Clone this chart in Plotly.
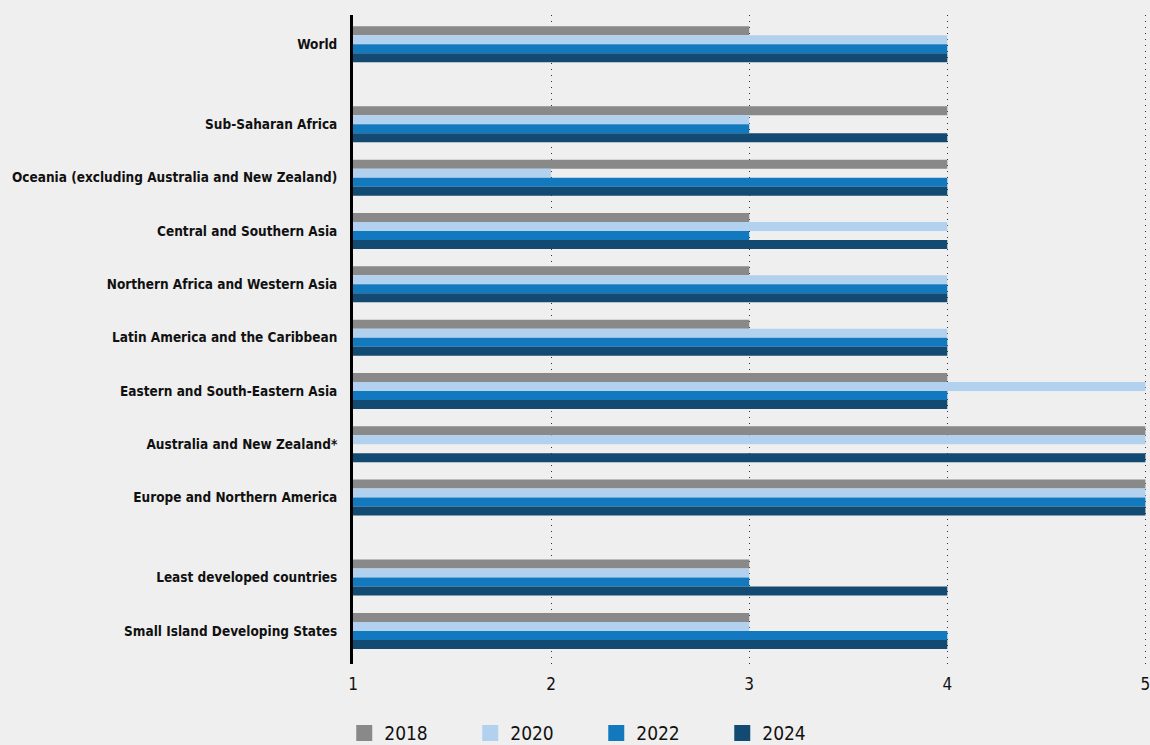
import plotly.graph_objects as go

categories = [
    "World",
    "Sub-Saharan Africa",
    "Oceania (excluding Australia and New Zealand)",
    "Central and Southern Asia",
    "Northern Africa and Western Asia",
    "Latin America and the Caribbean",
    "Eastern and South-Eastern Asia",
    "Australia and New Zealand*",
    "Europe and Northern America",
    "Least developed countries",
    "Small Island Developing States",
]
positions = [0, 1.5, 2.5, 3.5, 4.5, 5.5, 6.5, 7.5, 8.5, 10, 11]

years = ["2018", "2020", "2022", "2024"]
v2018 = [3, 4, 4, 3, 3, 3, 4, 5, 5, 3, 3]
v2020 = [4, 3, 2, 4, 4, 4, 5, 5, 5, 3, 3]
v2022 = [4, 3, 4, 3, 4, 4, 4, None, 5, 3, 4]
v2024 = [4, 4, 4, 4, 4, 4, 4, 5, 5, 4, 4]
series = [v2018, v2020, v2022, v2024]
colors = ["#898989", "#b1d1ee", "#1279be", "#124a72"]

FONT = "DejaVu Sans Condensed, sans-serif"

fig = go.Figure()
for name, vals, col in zip(years, series, colors):
    fig.add_trace(go.Bar(
        y=positions, x=vals, name=name, orientation="h",
        marker=dict(color=col, line=dict(width=0)),
        showlegend=False,
    ))
# legend entries (square swatches)
for name, col in zip(years, colors):
    fig.add_trace(go.Scatter(
        x=[None], y=[None], mode="markers", name=name,
        marker=dict(symbol="square", size=16, color=col),
    ))

L = 353
PX_PER_UNIT = 198.6

fig.update_layout(
    width=1150, height=745,
    paper_bgcolor="#efefef", plot_bgcolor="#efefef",
    margin=dict(l=L, r=0, t=15, b=81),
    barmode="group", bargap=0.325, bargroupgap=0,
    font=dict(family=FONT, color="#111111"),
    legend=dict(
        orientation="h", x=-0.011, xanchor="left",
        yref="container", y=0.016, yanchor="middle",
        entrywidth=81, entrywidthmode="pixels",
        font=dict(size=19, family=FONT, color="#111111"),
        traceorder="normal", bgcolor="rgba(0,0,0,0)",
        itemsizing="trace", itemclick=False,
    ),
    showlegend=True,
)
fig.update_xaxes(
    range=[1, 1 + (1150 - L) / PX_PER_UNIT], tickvals=[1, 2, 3, 4, 5],
    showgrid=True, gridcolor="#333333", gridwidth=1, griddash="1px,5px",
    zeroline=False, showline=False,
    tickfont=dict(size=17, family=FONT, color="#111111"),
    ticks="", ticklabelstandoff=8, ticklabeloverflow="allow",
)
fig.update_yaxes(
    range=[11.62, -0.55], tickvals=positions, ticktext=categories,
    showgrid=False, zeroline=False,
    showline=True, linecolor="#000000", linewidth=3,
    tickfont=dict(size=13.5, family=FONT, color="#111111", weight="bold"),
    ticks="", ticklabelstandoff=10,
)

fig.write_html(
    "out.html",
    config={"displayModeBar": False},
    post_script="document.body.style.margin='0';document.body.style.background='#efefef';",
)
